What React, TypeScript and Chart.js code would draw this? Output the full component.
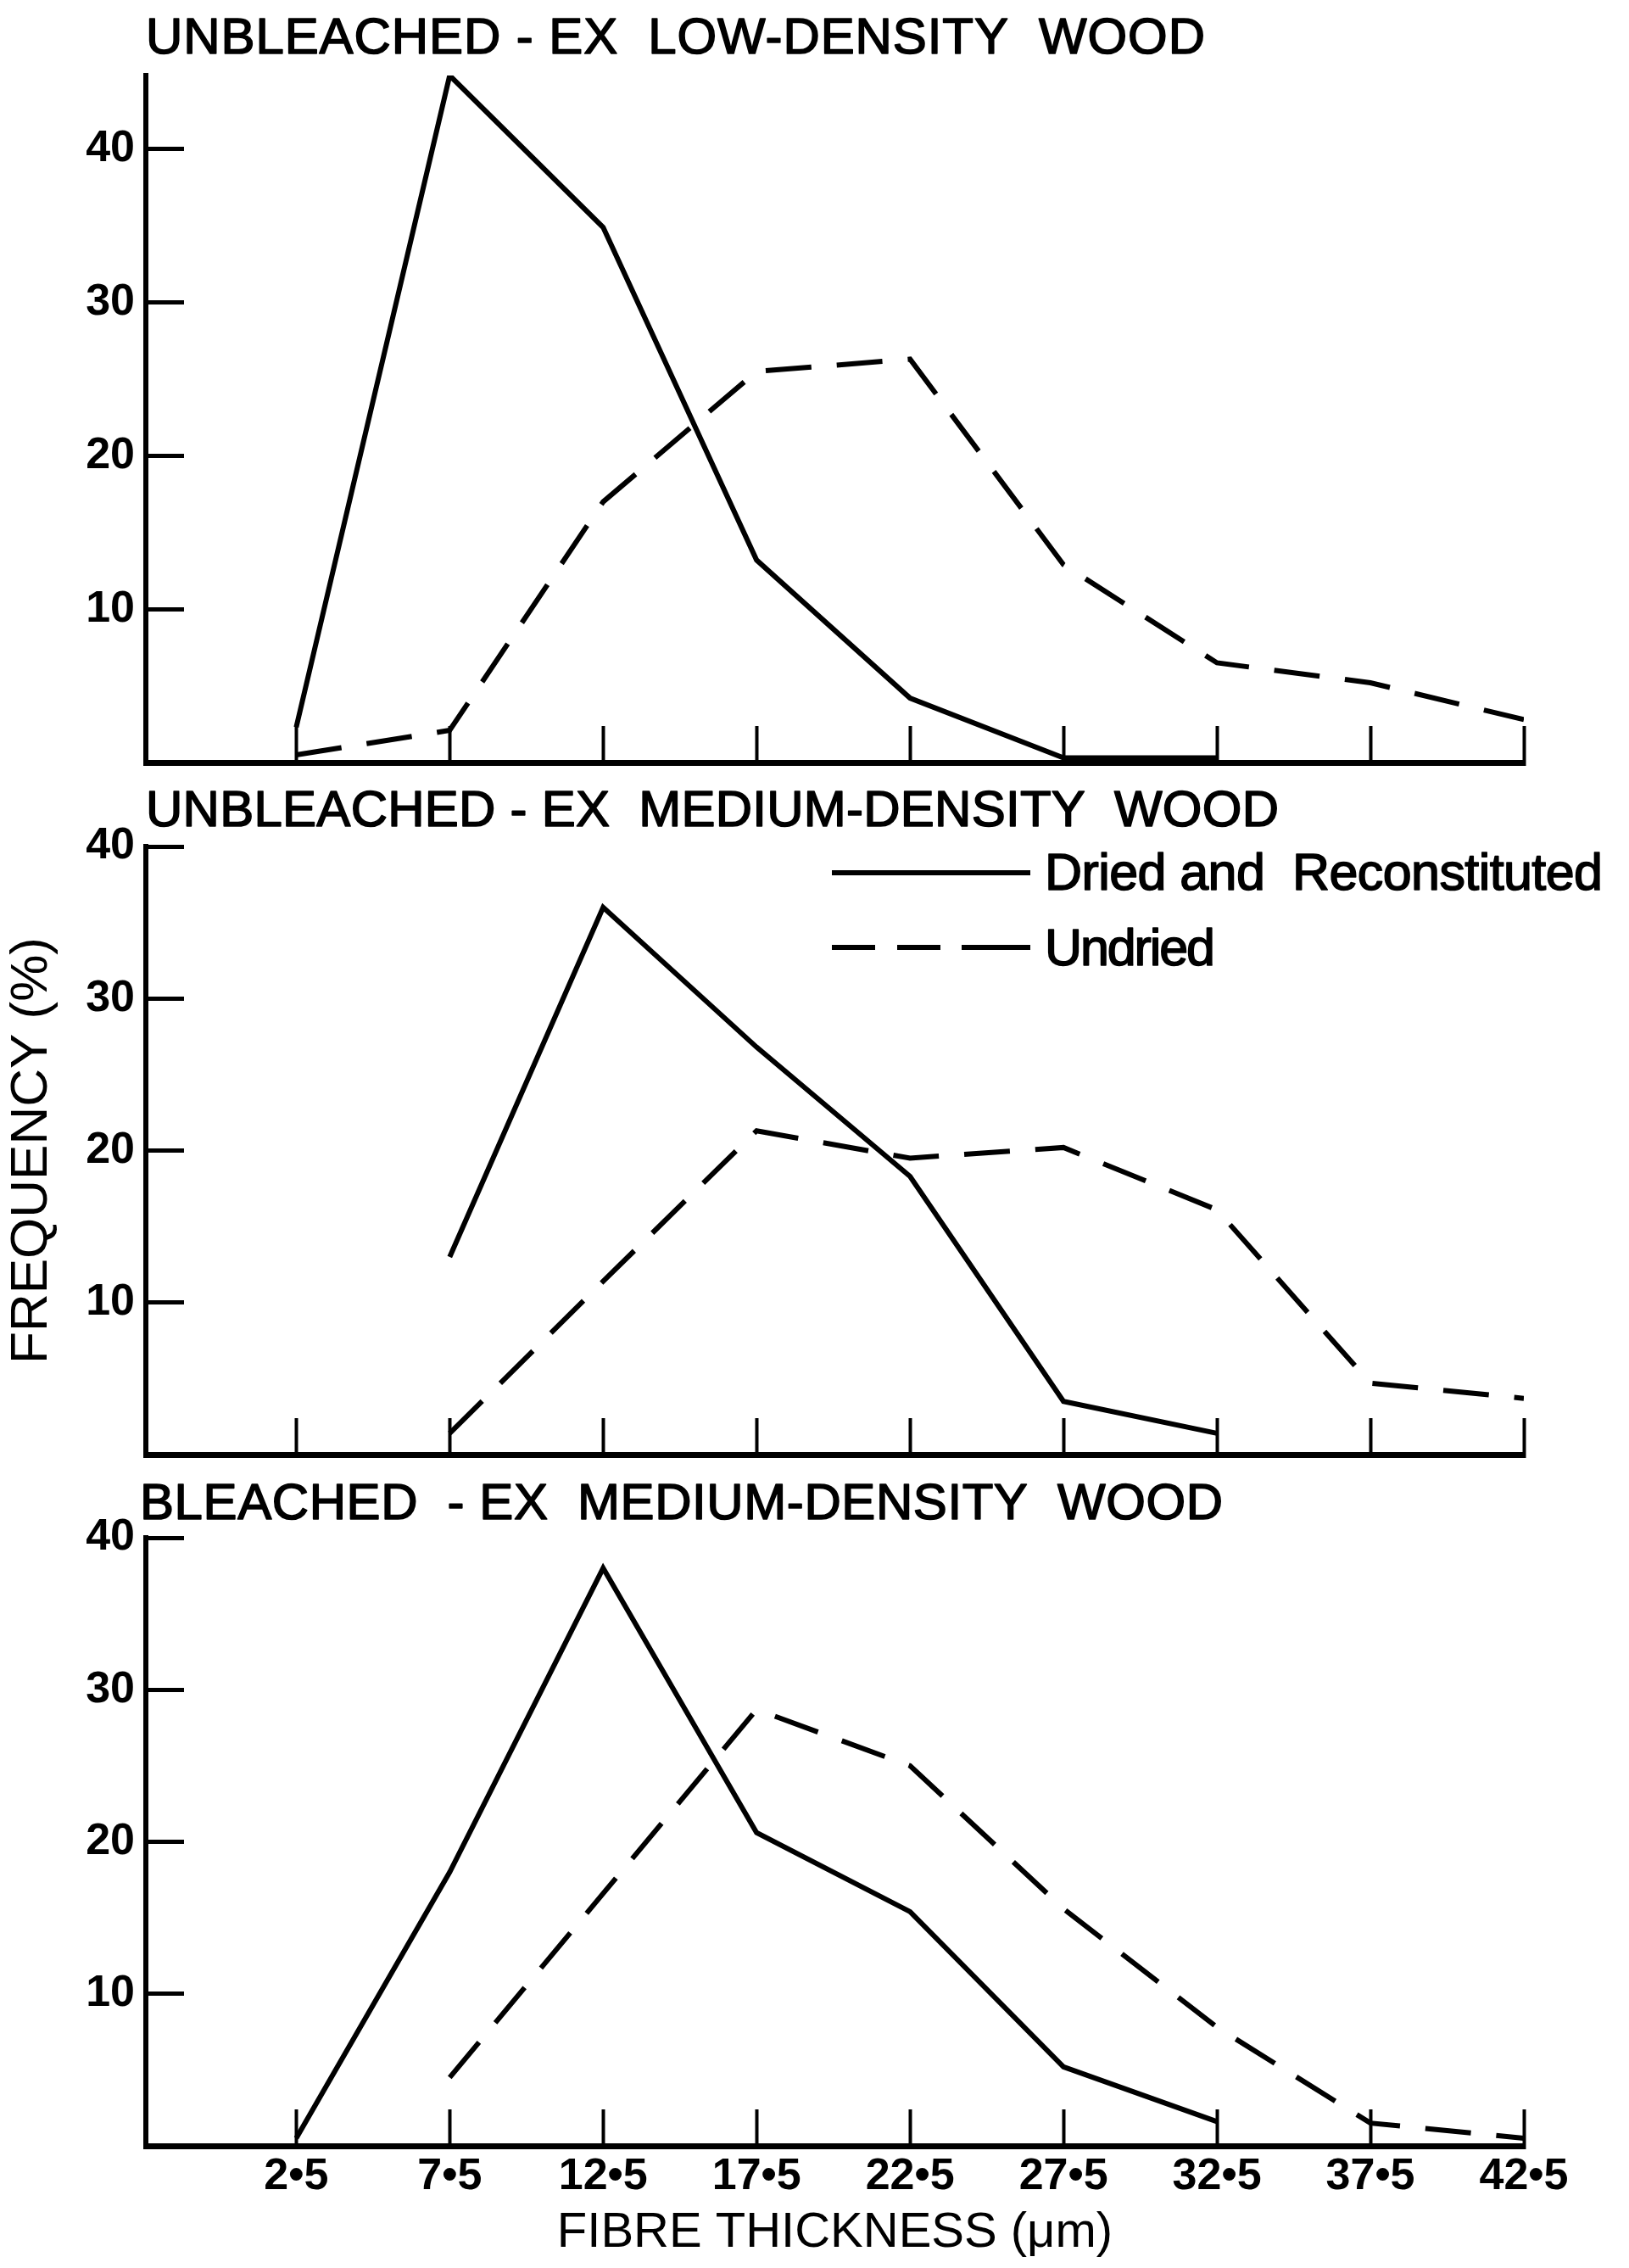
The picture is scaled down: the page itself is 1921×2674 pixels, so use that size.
import React, { useEffect, useRef } from 'react';
import { Chart, registerables } from 'chart.js';

Chart.register(...registerables);

// ---------- data ----------
const xTickValues = [2.5, 7.5, 12.5, 17.5, 22.5, 27.5, 32.5, 37.5, 42.5];
const xTickLabels = ['2•5', '7•5', '12•5', '17•5', '22•5', '27•5', '32•5', '37•5', '42•5'];
const yTickValues = [10, 20, 30, 40];

const panelTitles = [
  'UNBLEACHED - EX  LOW-DENSITY  WOOD',
  'UNBLEACHED - EX  MEDIUM-DENSITY  WOOD',
  'BLEACHED  - EX  MEDIUM-DENSITY  WOOD',
];
const seriesNames = ['Dried and  Reconstituted', 'Undried'];

// Panel 1: unbleached, ex low-density wood
const lowDriedX = [2.5, 7.5, 12.5, 17.5, 22.5, 27.5, 32.5];
const lowDriedY = [2.3, 44.8, 34.9, 13.2, 4.2, 0.3, 0.3];
const lowUndriedX = [2.5, 7.5, 12.5, 17.5, 22.5, 27.5, 32.5, 37.5, 42.5];
const lowUndriedY = [0.5, 2.1, 17.0, 25.5, 26.3, 12.9, 6.5, 5.2, 2.8];

// Panel 2: unbleached, ex medium-density wood
const medDriedX = [7.5, 12.5, 17.5, 22.5, 27.5, 32.5];
const medDriedY = [13.0, 36.0, 26.8, 18.3, 3.5, 1.4];
const medUndriedX = [7.5, 12.5, 17.5, 22.5, 27.5, 32.5, 37.5, 42.5];
const medUndriedY = [1.4, 11.4, 21.3, 19.5, 20.2, 16.1, 4.7, 3.7];

// Panel 3: bleached, ex medium-density wood
const blDriedX = [2.5, 7.5, 12.5, 17.5, 22.5, 27.5, 32.5];
const blDriedY = [0.5, 18.0, 38.0, 20.6, 15.4, 5.2, 1.6];
const blUndriedX = [7.5, 12.5, 17.5, 22.5, 27.5, 32.5, 37.5, 42.5];
const blUndriedY = [4.5, 16.6, 28.7, 25.0, 15.6, 7.8, 1.5, 0.5];

// ---------- styling / layout ----------
const W = 1921;
const SANS = "'Liberation Sans', Arial, Helvetica, sans-serif";
const X_MIN = -2.4;
const X_MAX = 42.5;
const AXIS_LEFT = 172;
const PAD_RIGHT = 124;

const toPts = (xs: number[], ys: number[]) => xs.map((x, i) => ({ x, y: ys[i] }));

const textPlugin = {
  id: 'panelText',
  afterDraw(chart: any, _args: any, opts: any) {
    const ctx = chart.ctx as CanvasRenderingContext2D;
    ctx.save();
    ctx.fillStyle = '#000';
    ctx.strokeStyle = '#000';
    ctx.textBaseline = 'alphabetic';
    ctx.textAlign = 'left';
    for (const t of opts.texts || []) {
      ctx.font = t.font;
      (ctx as any).letterSpacing = '0px';
      const w = ctx.measureText(t.text).width;
      const sp = t.width ? (t.width - w) / Math.max(1, t.text.length - 1) : 0;
      (ctx as any).letterSpacing = sp + 'px';
      ctx.fillText(t.text, t.x, t.y);
      ctx.lineWidth = 1.6;
      ctx.lineJoin = 'round';
      ctx.strokeText(t.text, t.x, t.y);
    }
    (ctx as any).letterSpacing = '0px';
    for (const s of opts.segments || []) {
      ctx.lineWidth = 6;
      ctx.lineCap = 'butt';
      ctx.beginPath();
      ctx.moveTo(s[0], s[1]);
      ctx.lineTo(s[2], s[3]);
      ctx.stroke();
    }
    ctx.restore();
  },
};

type Spec = {
  top: number;
  height: number;
  padTop: number;
  xHeight: number;
  yMax: number;
  dried: { x: number; y: number }[];
  undried: { x: number; y: number }[];
  title: string;
  titleX: number;
  titleBase: number;
  titleW: number;
  bottomAxis: boolean;
  yTitle: boolean;
  legend: boolean;
};

const specs: Spec[] = [
  {
    top: 0, height: 925, padTop: 89, xHeight: 26, yMax: 44.8,
    dried: toPts(lowDriedX, lowDriedY), undried: toPts(lowUndriedX, lowUndriedY),
    title: panelTitles[0], titleX: 172, titleBase: 63, titleW: 1249,
    bottomAxis: false, yTitle: false, legend: false,
  },
  {
    top: 925, height: 810, padTop: 73, xHeight: 20, yMax: 40,
    dried: toPts(medDriedX, medDriedY), undried: toPts(medUndriedX, medUndriedY),
    title: panelTitles[1], titleX: 172, titleBase: 974, titleW: 1336,
    bottomAxis: false, yTitle: true, legend: true,
  },
  {
    top: 1735, height: 939, padTop: 78, xHeight: 144, yMax: 40,
    dried: toPts(blDriedX, blDriedY), undried: toPts(blUndriedX, blUndriedY),
    title: panelTitles[2], titleX: 165, titleBase: 1791, titleW: 1277,
    bottomAxis: true, yTitle: false, legend: false,
  },
];

function Panel({ spec }: { spec: Spec }) {
  const ref = useRef<HTMLCanvasElement>(null);
  useEffect(() => {
    const top = spec.top;
    const texts: any[] = [
      { text: spec.title, x: spec.titleX, y: spec.titleBase - top, width: spec.titleW, font: `normal 60px ${SANS}` },
    ];
    const segments: number[][] = [];
    if (spec.legend) {
      texts.push({ text: seriesNames[0], x: 1232, y: 1049 - top, width: 658, font: `normal 61px ${SANS}` });
      texts.push({ text: seriesNames[1], x: 1232, y: 1138 - top, width: 201, font: `normal 61px ${SANS}` });
      segments.push([981, 1029 - top, 1215, 1029 - top]);
      segments.push([981, 1117 - top, 1032, 1117 - top]);
      segments.push([1058, 1117 - top, 1109, 1117 - top]);
      segments.push([1134, 1117 - top, 1215, 1117 - top]);
    }
    const chart = new Chart(ref.current!, {
      type: 'line',
      data: {
        datasets: [
          {
            label: seriesNames[0],
            data: spec.dried,
            borderColor: '#000',
            borderWidth: 6,
            pointRadius: 0,
            tension: 0,
            fill: false,
          },
          {
            label: seriesNames[1],
            data: spec.undried,
            borderColor: '#000',
            borderWidth: 6,
            borderDash: [54, 30],
            pointRadius: 0,
            tension: 0,
            fill: false,
          },
        ],
      },
      options: {
        responsive: false,
        animation: false,
        devicePixelRatio: 1,
        layout: { padding: { top: spec.padTop, right: PAD_RIGHT, left: 0, bottom: 0 }, autoPadding: false },
        plugins: {
          legend: { display: false },
          tooltip: { enabled: false },
          title: { display: false },
          panelText: { texts, segments },
        } as any,
        scales: {
          x: {
            type: 'linear',
            min: X_MIN,
            max: X_MAX,
            afterBuildTicks: (scale: any) => {
              scale.ticks = xTickValues.map((v) => ({ value: v }));
            },
            afterFit: (scale: any) => {
              scale.height = spec.xHeight;
              scale.paddingLeft = 0;
              scale.paddingRight = 0;
              scale.paddingTop = 0;
              scale.paddingBottom = 0;
            },
            grid: {
              drawOnChartArea: false,
              drawTicks: true,
              tickLength: -43,
              tickWidth: 4,
              tickColor: '#000',
            },
            border: { display: true, color: '#000', width: 7 },
            ticks: {
              display: spec.bottomAxis,
              padding: 48,
              color: '#000',
              maxRotation: 0,
              autoSkip: false,
              font: { family: SANS, size: 52, weight: 'bold' },
              callback: (v: any) => {
                const i = xTickValues.indexOf(Number(v));
                return i >= 0 ? xTickLabels[i] : '';
              },
            },
            title: {
              display: spec.bottomAxis,
              text: 'FIBRE THICKNESS (μm)',
              color: '#000',
              font: { family: SANS, size: 58, weight: 'normal' },
              padding: { top: 0, bottom: 6 },
            },
          },
          y: {
            type: 'linear',
            min: 0,
            max: spec.yMax,
            afterBuildTicks: (scale: any) => {
              scale.ticks = yTickValues.map((v) => ({ value: v }));
            },
            afterFit: (scale: any) => {
              scale.width = AXIS_LEFT;
              scale.paddingLeft = 0;
              scale.paddingRight = 0;
              scale.paddingTop = 0;
              scale.paddingBottom = 0;
            },
            grid: {
              drawOnChartArea: false,
              drawTicks: true,
              tickLength: -45,
              tickWidth: 5,
              tickColor: '#000',
            },
            border: { display: true, color: '#000', width: 6 },
            ticks: {
              padding: 58,
              color: '#000',
              font: { family: SANS, size: 52, weight: 'bold' },
              callback: (v: any) => String(v),
            },
            title: {
              display: spec.yTitle,
              text: 'FREQUENCY (%)',
              color: '#000',
              font: { family: SANS, size: 62, weight: 'normal' },
              padding: { top: 1, bottom: 0 },
            },
          },
        },
      },
      plugins: [textPlugin as any],
    } as any);
    return () => chart.destroy();
  }, [spec]);
  return (
    <canvas
      ref={ref}
      width={W}
      height={spec.height}
      style={{ position: 'absolute', left: 0, top: spec.top, width: W, height: spec.height }}
    />
  );
}

export default function App() {
  useEffect(() => {
    document.body.style.margin = '0';
    document.body.style.background = '#fff';
  }, []);
  return (
    <div style={{ position: 'relative', width: W, height: 2674, background: '#fff', overflow: 'hidden' }}>
      {specs.map((s, i) => (
        <Panel key={i} spec={s} />
      ))}
    </div>
  );
}
